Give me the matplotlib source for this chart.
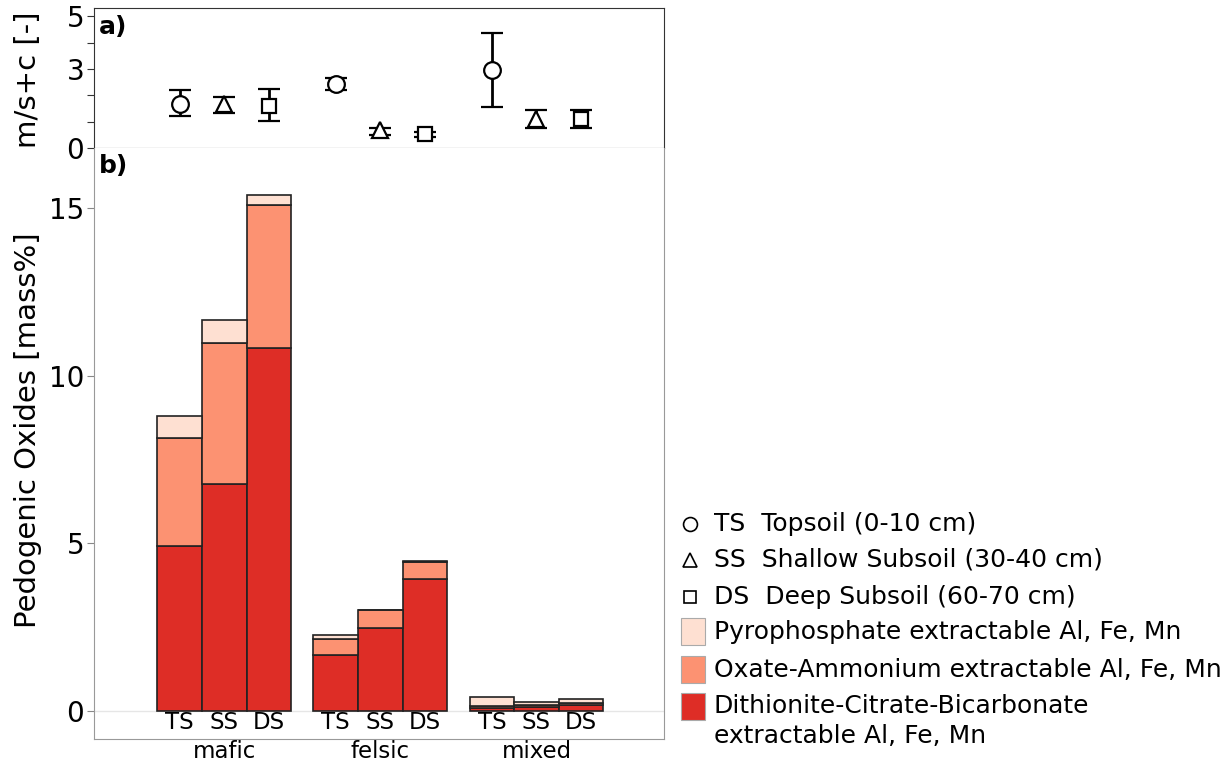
import numpy as np
import matplotlib
matplotlib.use("Agg")
import matplotlib.pyplot as plt
from matplotlib.patches import Rectangle

# --- data ---
groups = ["mafic", "felsic", "mixed"]
depths = ["TS", "SS", "DS"]

# m/s+c ratio (panel a): mean, lower and upper error bar ends
msc_mean = [1.68, 1.68, 1.59, 2.42, 0.68, 0.54, 2.96, 1.12, 1.12]
msc_low = [1.21, 1.34, 1.02, 2.19, 0.51, 0.41, 1.55, 0.76, 0.76]
msc_high = [2.19, 1.94, 2.25, 2.65, 0.76, 0.61, 4.36, 1.43, 1.45]

# pedogenic oxides (panel b), mass%
dcb = [4.91, 6.77, 10.82, 1.66, 2.47, 3.95, 0.08, 0.12, 0.16]
oxalate = [3.23, 4.20, 4.27, 0.49, 0.53, 0.49, 0.06, 0.06, 0.07]
pyro = [0.67, 0.69, 0.30, 0.10, 0.02, 0.02, 0.27, 0.08, 0.12]

legend_depths = ["TS  Topsoil (0-10 cm)", "SS  Shallow Subsoil (30-40 cm)",
                 "DS  Deep Subsoil (60-70 cm)"]
legend_layers = ["Pyrophosphate extractable Al, Fe, Mn",
                 "Oxate-Ammonium extractable Al, Fe, Mn",
                 "Dithionite-Citrate-Bicarbonate\nextractable Al, Fe, Mn"]

c_pyro, c_ox, c_dcb = "#fee0d2", "#fc9272", "#de2d26"
markers = ["o", "^", "s"]

x = np.array([g * 3.5 + d for g in range(3) for d in range(3)])

fig = plt.figure(figsize=(12.29, 7.65), dpi=100)
ax_a = fig.add_axes([0.0765, 0.8065, 0.4638, 0.183])
ax_b = fig.add_axes([0.0765, 0.034, 0.4638, 0.7725])

# --- panel a ---
for i in range(len(x)):
    m = markers[i % 3]
    ax_a.errorbar(x[i], msc_mean[i],
                  yerr=[[msc_mean[i] - msc_low[i]], [msc_high[i] - msc_mean[i]]],
                  fmt=m, mfc="white", mec="black", mew=1.6, ms=12 if m != "s" else 10.5,
                  ecolor="black", elinewidth=2, capsize=8, capthick=2, color="black")
ax_a.set_xlim(-1.92, 10.86)
ax_a.set_ylim(0, 5.32)
ax_a.set_yticks([0, 1, 2, 3, 4, 5])
ax_a.set_yticklabels(["0", "", "", "3", "", "5"])
ax_a.set_xticks([])
ax_a.tick_params(axis="y", labelsize=20, length=5, color="#333333", pad=2)
for s in ax_a.spines.values():
    s.set_color("#333333")
ax_a.text(0.008, 0.95, "a)", transform=ax_a.transAxes, fontsize=18, fontweight="bold",
          va="top", ha="left")

# --- panel b ---
w = 1.0
ax_b.axhline(0, color="#e6e6e6", lw=1, zorder=0)
ax_b.bar(x, dcb, width=w, color=c_dcb, edgecolor="#222222", lw=1.2)
ax_b.bar(x, oxalate, width=w, bottom=dcb, color=c_ox, edgecolor="#222222", lw=1.2)
bottom2 = np.array(dcb) + np.array(oxalate)
ax_b.bar(x, pyro, width=w, bottom=bottom2, color=c_pyro, edgecolor="#222222", lw=1.2)
for i in range(len(x)):
    ax_b.text(x[i], -0.35, depths[i % 3], ha="center", va="center", fontsize=16.5)
ax_b.set_xlim(-1.92, 10.86)
ax_b.set_ylim(-0.84, 16.8)
ax_b.set_yticks([0, 5, 10, 15])
ax_b.set_xticks([1, 4.5, 8])
ax_b.set_xticklabels(groups)
ax_b.tick_params(axis="y", labelsize=20, length=5, color="#888888", pad=2)
ax_b.tick_params(axis="x", labelsize=16.5, length=0, pad=1)
for s in ax_b.spines.values():
    s.set_color("#999999")
ax_b.spines["top"].set_visible(False)
ax_b.text(0.008, 0.99, "b)", transform=ax_b.transAxes, fontsize=18, fontweight="bold",
          va="top", ha="left")

fig.text(28 / 1229, 1 - 80 / 765, "m/s+c [-]", rotation=90, ha="center", va="center",
         fontsize=21)
fig.text(28 / 1229, 1 - 430 / 765, "Pedogenic Oxides [mass%]", rotation=90,
         ha="center", va="center", fontsize=21)

# --- legend (manual) ---
lg = fig.add_axes([0, 0, 1, 1], facecolor="none")
lg.set_xlim(0, 1229)
lg.set_ylim(765, 0)
lg.axis("off")
for ypos, m, lab in zip([524, 560, 597], markers, legend_depths):
    lg.plot(690, ypos, marker=m, ms=10 if m != "s" else 9, mfc="white", mec="black", mew=1.2)
    lg.text(714, ypos, lab, fontsize=18, va="center", ha="left")
for ytop, col, lab, ytxt in zip([618, 656, 693], [c_pyro, c_ox, c_dcb], legend_layers,
                                [632, 670, 721]):
    lg.add_patch(Rectangle((681, ytop), 24, 27, facecolor=col, edgecolor="#aaaaaa", lw=0.8))
    lg.text(714, ytxt, lab, fontsize=18, va="center", ha="left", linespacing=1.3)

fig.savefig("out.png", dpi=100)
